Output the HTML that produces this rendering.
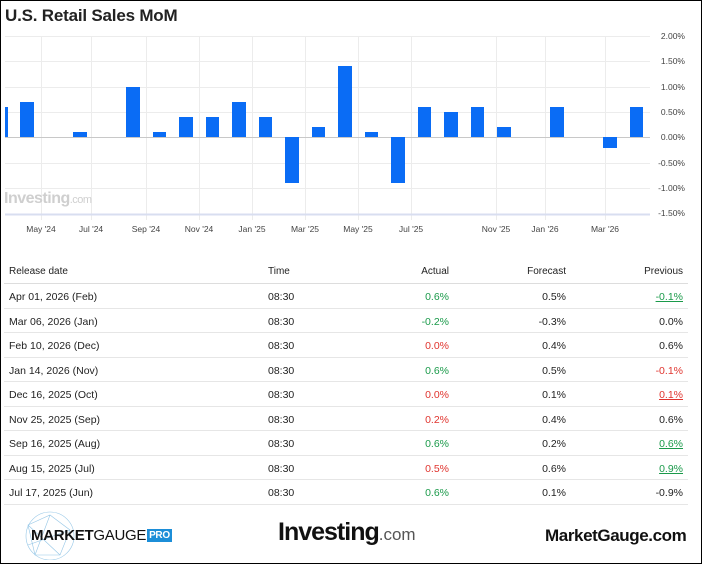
<!DOCTYPE html>
<html><head><meta charset="utf-8"><style>
body{margin:0;width:702px;height:564px;overflow:hidden;background:#fff;font-family:"Liberation Sans",Arial,sans-serif;}
.frame{position:absolute;left:0;top:0;width:700px;height:562px;border:1px solid #000;}
.t{position:absolute;white-space:nowrap;}
.g{color:#1a9a4a}.r{color:#e0342e}
.row{position:relative;height:23.5px;border-bottom:1px solid #e6e6e6}
</style></head><body>
<div class="frame"></div>
<div class="t" style="left:5px;top:6px;font-size:17px;font-weight:bold;color:#222;letter-spacing:-0.2px">U.S. Retail Sales MoM</div>
<svg width="702" height="245" style="position:absolute;left:0;top:0" font-family="Liberation Sans,Arial,sans-serif">
<g stroke="#ececec" stroke-width="1">
<line x1="5" x2="650" y1="36.5" y2="36.5"/><line x1="5" x2="650" y1="61.5" y2="61.5"/><line x1="5" x2="650" y1="87.5" y2="87.5"/><line x1="5" x2="650" y1="112.5" y2="112.5"/><line x1="5" x2="650" y1="163.5" y2="163.5"/><line x1="5" x2="650" y1="188.5" y2="188.5"/>
<line x1="41.5" x2="41.5" y1="36" y2="220"/><line x1="91.5" x2="91.5" y1="36" y2="220"/><line x1="146.5" x2="146.5" y1="36" y2="220"/><line x1="199.5" x2="199.5" y1="36" y2="220"/><line x1="252.5" x2="252.5" y1="36" y2="220"/><line x1="305.5" x2="305.5" y1="36" y2="220"/><line x1="358.5" x2="358.5" y1="36" y2="220"/><line x1="411.5" x2="411.5" y1="36" y2="220"/><line x1="496.5" x2="496.5" y1="36" y2="220"/><line x1="545.5" x2="545.5" y1="36" y2="220"/><line x1="605.5" x2="605.5" y1="36" y2="220"/>
</g>
<line x1="5" x2="650" y1="137.5" y2="137.5" stroke="#c8c8c8"/>
<line x1="5" x2="650" y1="214.5" y2="214.5" stroke="#d8def0" stroke-width="2"/>
<g fill="#0a6cf5">
<rect x="5" y="107" width="3" height="30"/>
<rect x="20" y="102" width="14" height="35"/>
<rect x="73" y="132" width="14" height="5"/>
<rect x="126" y="87" width="14" height="50"/>
<rect x="153" y="132" width="13" height="5"/>
<rect x="179" y="117" width="14" height="20"/>
<rect x="206" y="117" width="13" height="20"/>
<rect x="232" y="102" width="14" height="35"/>
<rect x="259" y="117" width="13" height="20"/>
<rect x="285" y="137" width="14" height="46"/>
<rect x="312" y="127" width="13" height="10"/>
<rect x="338" y="66" width="14" height="71"/>
<rect x="365" y="132" width="13" height="5"/>
<rect x="391" y="137" width="14" height="46"/>
<rect x="418" y="107" width="13" height="30"/>
<rect x="444" y="112" width="14" height="25"/>
<rect x="471" y="107" width="13" height="30"/>
<rect x="497" y="127" width="14" height="10"/>
<rect x="550" y="107" width="14" height="30"/>
<rect x="603" y="137" width="14" height="11"/>
<rect x="630" y="107" width="13" height="30"/>
</g>
<g font-size="8.5" fill="#444" text-anchor="end">
<text x="685" y="39">2.00%</text><text x="685" y="64">1.50%</text><text x="685" y="90">1.00%</text><text x="685" y="115">0.50%</text><text x="685" y="140">0.00%</text><text x="685" y="166">-0.50%</text><text x="685" y="191">-1.00%</text><text x="685" y="216">-1.50%</text>
</g>
<g font-size="8.5" fill="#444" text-anchor="middle">
<text x="41" y="232">May '24</text><text x="91" y="232">Jul '24</text><text x="146" y="232">Sep '24</text><text x="199" y="232">Nov '24</text><text x="252" y="232">Jan '25</text><text x="305" y="232">Mar '25</text><text x="358" y="232">May '25</text><text x="411" y="232">Jul '25</text><text x="496" y="232">Nov '25</text><text x="545" y="232">Jan '26</text><text x="605" y="232">Mar '26</text>
</g>
<text x="4" y="203" font-size="16" font-weight="bold" fill="#cfcfcf" letter-spacing="-0.5">Investing<tspan font-size="11" font-weight="normal">.com</tspan></text>
</svg>
<div style="position:absolute;left:4px;top:258px;width:684px;font-size:10px;color:#222">
<div class="t" style="left:5px;top:8px">Release date</div><div class="t" style="left:264px;top:8px">Time</div><div class="t" style="right:239px;top:8px">Actual</div><div class="t" style="right:122px;top:8px">Forecast</div><div class="t" style="right:5px;top:8px">Previous</div>
</div>
<div style="position:absolute;left:4px;top:283px;width:684px;height:1px;background:#ddd"></div>
<div style="position:absolute;left:4px;top:284px;width:684px;font-size:10.5px;color:#222">
<div class="row"><span class="t" style="left:5px;top:7px">Apr 01, 2026 (Feb)</span><span class="t" style="left:264px;top:7px">08:30</span><span class="t g" style="right:239px;top:7px">0.6%</span><span class="t" style="right:122px;top:7px">0.5%</span><span class="t g" style="right:5px;top:7px;text-decoration:underline">-0.1%</span></div>
<div class="row"><span class="t" style="left:5px;top:7px">Mar 06, 2026 (Jan)</span><span class="t" style="left:264px;top:7px">08:30</span><span class="t g" style="right:239px;top:7px">-0.2%</span><span class="t" style="right:122px;top:7px">-0.3%</span><span class="t" style="right:5px;top:7px">0.0%</span></div>
<div class="row"><span class="t" style="left:5px;top:7px">Feb 10, 2026 (Dec)</span><span class="t" style="left:264px;top:7px">08:30</span><span class="t r" style="right:239px;top:7px">0.0%</span><span class="t" style="right:122px;top:7px">0.4%</span><span class="t" style="right:5px;top:7px">0.6%</span></div>
<div class="row"><span class="t" style="left:5px;top:7px">Jan 14, 2026 (Nov)</span><span class="t" style="left:264px;top:7px">08:30</span><span class="t g" style="right:239px;top:7px">0.6%</span><span class="t" style="right:122px;top:7px">0.5%</span><span class="t r" style="right:5px;top:7px">-0.1%</span></div>
<div class="row"><span class="t" style="left:5px;top:7px">Dec 16, 2025 (Oct)</span><span class="t" style="left:264px;top:7px">08:30</span><span class="t r" style="right:239px;top:7px">0.0%</span><span class="t" style="right:122px;top:7px">0.1%</span><span class="t r" style="right:5px;top:7px;text-decoration:underline">0.1%</span></div>
<div class="row"><span class="t" style="left:5px;top:7px">Nov 25, 2025 (Sep)</span><span class="t" style="left:264px;top:7px">08:30</span><span class="t r" style="right:239px;top:7px">0.2%</span><span class="t" style="right:122px;top:7px">0.4%</span><span class="t" style="right:5px;top:7px">0.6%</span></div>
<div class="row"><span class="t" style="left:5px;top:7px">Sep 16, 2025 (Aug)</span><span class="t" style="left:264px;top:7px">08:30</span><span class="t g" style="right:239px;top:7px">0.6%</span><span class="t" style="right:122px;top:7px">0.2%</span><span class="t g" style="right:5px;top:7px;text-decoration:underline">0.6%</span></div>
<div class="row"><span class="t" style="left:5px;top:7px">Aug 15, 2025 (Jul)</span><span class="t" style="left:264px;top:7px">08:30</span><span class="t r" style="right:239px;top:7px">0.5%</span><span class="t" style="right:122px;top:7px">0.6%</span><span class="t g" style="right:5px;top:7px;text-decoration:underline">0.9%</span></div>
<div class="row"><span class="t" style="left:5px;top:7px">Jul 17, 2025 (Jun)</span><span class="t" style="left:264px;top:7px">08:30</span><span class="t g" style="right:239px;top:7px">0.6%</span><span class="t" style="right:122px;top:7px">0.1%</span><span class="t" style="right:5px;top:7px">-0.9%</span></div>
</div>
<svg width="80" height="50" style="position:absolute;left:10px;top:510px"><g fill="none" stroke="#7ab8e0" stroke-width="0.6" opacity="0.8"><circle cx="40" cy="26" r="24"/><path d="M18 15 L40 5 L60 20 L50 45 L25 45 Z M18 15 L50 45 M40 5 L25 45 M60 20 L18 35"/></g></svg>
<div class="t" style="left:31px;top:527px;font-size:15px;font-weight:bold;color:#111;letter-spacing:-0.3px">MARKET<span style="font-weight:normal">GAUGE</span><span style="background:#1c8ed8;color:#fff;font-size:10px;padding:1px 2px;margin-left:1px;vertical-align:2px">PRO</span></div>
<div class="t" style="left:278px;top:518px;font-size:25px;font-weight:bold;color:#111;letter-spacing:-1px">Investing<span style="font-size:17px;font-weight:normal;color:#555;letter-spacing:0">.com</span></div>
<div class="t" style="left:545px;top:526px;font-size:17px;font-weight:bold;color:#111;letter-spacing:-0.4px">MarketGauge.com</div>
</body></html>
